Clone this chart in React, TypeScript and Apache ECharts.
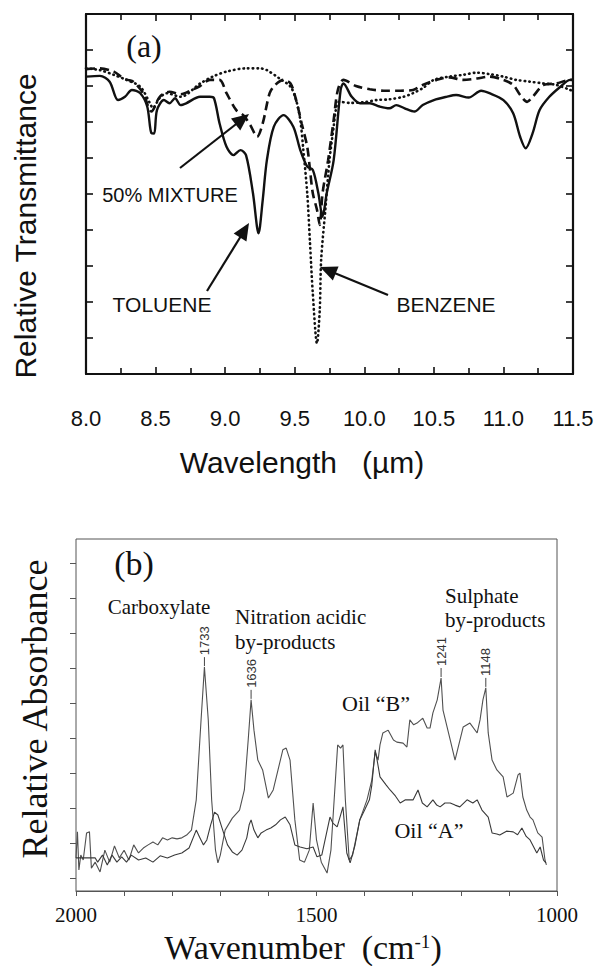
import React, { useEffect, useRef } from "react";
import * as echarts from "echarts";

// ---------- (a) IR transmittance ----------
const wlToluene = [8.0, 8.1, 8.17, 8.23, 8.28, 8.33, 8.39, 8.44, 8.47, 8.49, 8.51, 8.56, 8.6, 8.64, 8.68, 8.72, 8.82, 8.89, 8.92, 8.96, 9.01, 9.06, 9.11, 9.15, 9.2, 9.24, 9.27, 9.3, 9.35, 9.42, 9.49, 9.54, 9.59, 9.63, 9.67, 9.7, 9.73, 9.78, 9.83, 9.85, 9.91, 9.97, 10.04, 10.11, 10.18, 10.23, 10.29, 10.36, 10.42, 10.5, 10.59, 10.66, 10.75, 10.84, 10.9, 11.0, 11.07, 11.12, 11.16, 11.21, 11.26, 11.33, 11.41, 11.48, 11.5];
const tToluene = [8.26, 8.28, 8.12, 7.61, 7.7, 7.89, 7.8, 7.43, 6.69, 6.68, 7.33, 7.61, 7.52, 7.66, 7.47, 7.52, 7.7, 7.7, 7.66, 6.96, 6.31, 6.08, 6.22, 6.08, 5.02, 3.91, 4.83, 5.94, 6.87, 7.19, 6.87, 6.22, 5.76, 5.67, 5.02, 4.37, 5.02, 5.94, 7.89, 8.07, 7.7, 7.52, 7.52, 7.43, 7.38, 7.47, 7.38, 7.29, 7.47, 7.61, 7.7, 7.75, 7.68, 7.87, 7.8, 7.61, 7.24, 6.59, 6.27, 6.69, 7.33, 7.7, 7.98, 8.17, 8.17];

const wlMixture = [8.0, 8.1, 8.2, 8.27, 8.3, 8.34, 8.41, 8.47, 8.53, 8.6, 8.68, 8.76, 8.82, 8.89, 8.96, 9.01, 9.08, 9.13, 9.18, 9.23, 9.27, 9.32, 9.36, 9.42, 9.47, 9.51, 9.55, 9.59, 9.61, 9.63, 9.66, 9.68, 9.7, 9.74, 9.78, 9.81, 9.85, 9.94, 10.04, 10.14, 10.26, 10.35, 10.42, 10.52, 10.61, 10.71, 10.81, 10.9, 11.0, 11.07, 11.12, 11.17, 11.21, 11.29, 11.38, 11.48, 11.5];
const tMixture = [8.47, 8.49, 8.4, 8.21, 8.17, 8.12, 7.8, 7.29, 7.7, 7.84, 7.77, 7.89, 8.0, 8.17, 8.17, 7.8, 7.33, 7.19, 6.92, 6.59, 6.96, 7.8, 8.03, 8.17, 8.07, 7.61, 6.96, 6.31, 5.67, 5.02, 4.56, 4.14, 5.02, 5.94, 7.06, 7.89, 8.17, 8.0, 7.91, 7.87, 7.87, 7.89, 8.03, 8.17, 8.24, 8.17, 8.21, 8.26, 8.17, 8.03, 7.75, 7.56, 7.7, 8.03, 8.07, 8.17, 8.17];

const wlBenzene = [8.0, 8.1, 8.2, 8.29, 8.39, 8.46, 8.48, 8.53, 8.58, 8.68, 8.82, 8.91, 9.01, 9.15, 9.25, 9.3, 9.39, 9.47, 9.51, 9.54, 9.56, 9.59, 9.61, 9.63, 9.66, 9.68, 9.69, 9.72, 9.75, 9.78, 9.8, 9.82, 9.9, 10.0, 10.09, 10.18, 10.28, 10.35, 10.42, 10.5, 10.61, 10.71, 10.81, 10.9, 11.0, 11.09, 11.19, 11.29, 11.38, 11.48, 11.5];
const tBenzene = [8.49, 8.44, 8.31, 8.17, 7.98, 7.52, 7.39, 7.67, 7.8, 7.7, 8.07, 8.26, 8.4, 8.49, 8.49, 8.44, 8.21, 7.98, 7.61, 7.06, 6.31, 5.02, 3.63, 2.24, 0.85, 1.78, 3.17, 4.56, 5.94, 6.87, 7.43, 7.56, 7.53, 7.55, 7.61, 7.63, 7.7, 7.8, 7.94, 8.17, 8.26, 8.31, 8.37, 8.33, 8.26, 8.17, 8.12, 8.07, 8.03, 7.89, 7.86];

// ---------- (b) IR absorbance ----------
const wnOilB = [2000, 1997, 1994, 1990, 1985, 1978, 1972, 1968, 1960, 1950, 1940, 1930, 1920, 1910, 1900, 1890, 1880, 1870, 1860, 1850, 1840, 1830, 1820, 1810, 1800, 1790, 1780, 1770, 1760, 1750, 1740, 1733, 1725, 1718, 1710, 1705, 1700, 1690, 1675, 1660, 1650, 1642, 1636, 1630, 1622, 1612, 1600, 1590, 1580, 1570, 1563, 1555, 1545, 1535, 1525, 1515, 1507, 1500, 1490, 1478, 1470, 1462, 1456, 1450, 1445, 1440, 1432, 1425, 1410, 1395, 1385, 1378, 1372, 1368, 1362, 1351, 1340, 1333, 1320, 1312, 1306, 1298, 1291, 1279, 1270, 1264, 1258, 1249, 1241, 1237, 1222, 1212, 1195, 1181, 1166, 1160, 1154, 1148, 1143, 1135, 1125, 1112, 1104, 1091, 1081, 1077, 1071, 1063, 1056, 1050, 1040, 1031, 1025, 1022];
const absOilB = [0.94, 1.68, 0.6, 1.02, 0.88, 1.65, 1.68, 0.65, 0.82, 0.54, 1.16, 0.82, 1.28, 0.94, 1.16, 0.88, 1.31, 1.08, 1.22, 1.31, 1.39, 1.31, 1.51, 1.45, 1.51, 1.48, 1.51, 1.59, 1.73, 2.59, 4.86, 6.36, 4.86, 2.59, 1.16, 0.8, 1.02, 1.73, 2.07, 2.3, 2.87, 4.29, 5.43, 4.57, 3.72, 3.44, 2.64, 2.87, 3.44, 4.01, 4.06, 3.72, 2.02, 0.88, 0.82, 1.16, 2.5, 1.45, 0.82, 0.51, 1.16, 2.87, 4.15, 4.06, 4.15, 2.59, 0.88, 1.02, 2.02, 2.59, 3.15, 3.95, 3.72, 4.15, 4.49, 4.57, 4.29, 4.23, 4.2, 4.09, 4.86, 4.72, 4.77, 4.91, 4.63, 4.63, 5.06, 5.43, 6.05, 5.14, 4.29, 3.72, 4.66, 4.77, 4.49, 4.86, 5.43, 5.77, 4.49, 3.72, 3.44, 3.24, 2.67, 2.78, 3.3, 3.35, 2.67, 2.3, 2.1, 2.02, 1.65, 1.53, 0.88, 0.74];

const wnOilA = [2000, 1990, 1980, 1970, 1960, 1955, 1945, 1935, 1925, 1915, 1905, 1895, 1885, 1870, 1855, 1840, 1825, 1810, 1795, 1780, 1765, 1750, 1743, 1735, 1728, 1720, 1712, 1705, 1695, 1685, 1675, 1665, 1655, 1645, 1640, 1636, 1630, 1622, 1615, 1605, 1595, 1585, 1575, 1565, 1555, 1545, 1534, 1520, 1507, 1499, 1489, 1472, 1466, 1457, 1445, 1437, 1430, 1420, 1410, 1400, 1390, 1385, 1378, 1374, 1368, 1355, 1347, 1336, 1326, 1315, 1299, 1289, 1280, 1270, 1258, 1250, 1243, 1233, 1222, 1212, 1202, 1187, 1175, 1166, 1156, 1143, 1135, 1125, 1119, 1105, 1091, 1082, 1073, 1064, 1056, 1042, 1035, 1028, 1023];
const absOilA = [0.94, 0.94, 0.94, 0.94, 0.94, 0.82, 1.02, 0.74, 1.02, 0.82, 0.97, 0.82, 1.02, 0.88, 0.94, 0.82, 1.0, 0.94, 1.02, 1.08, 1.22, 1.73, 1.53, 1.31, 1.45, 1.88, 2.24, 2.16, 1.73, 1.31, 1.11, 1.02, 1.16, 1.51, 1.88, 2.02, 1.73, 1.51, 1.65, 1.73, 1.79, 1.88, 2.02, 2.1, 1.88, 1.31, 1.25, 1.2, 1.25, 0.97, 1.02, 2.1, 1.93, 1.82, 2.39, 1.08, 0.8, 1.3, 2.02, 2.3, 2.59, 3.01, 4.01, 3.72, 3.24, 3.01, 2.87, 2.7, 2.5, 2.59, 2.59, 2.87, 2.5, 2.39, 2.59, 2.44, 2.39, 2.5, 2.5, 2.44, 2.39, 2.59, 2.5, 2.59, 2.3, 2.1, 1.65, 1.62, 1.59, 1.7, 1.68, 1.6, 1.79, 1.55, 1.45, 1.08, 1.25, 0.88, 0.8];

const peakLabels = [1733, 1636, 1241, 1148];
const wnTickLabels = [2000, 1500, 1000];

const pairs = (xs: number[], ys: number[]) => xs.map((x, i) => [x, ys[i]]);

function arrow(tail: number[], tip: number[], color: string) {
  const dx = tip[0] - tail[0];
  const dy = tip[1] - tail[1];
  const len = Math.sqrt(dx * dx + dy * dy);
  const ux = dx / len;
  const uy = dy / len;
  const hl = 17;
  const hw = 7.5;
  const bx = tip[0] - ux * hl;
  const by = tip[1] - uy * hl;
  return [
    {
      type: "line",
      shape: { x1: tail[0], y1: tail[1], x2: bx + ux * 2, y2: by + uy * 2 },
      style: { stroke: color, lineWidth: 2.2 },
    },
    {
      type: "polygon",
      shape: {
        points: [
          [tip[0], tip[1]],
          [bx - uy * hw, by + ux * hw],
          [bx + uy * hw, by - ux * hw],
        ],
      },
      style: { fill: color },
    },
  ];
}

export default function App() {
  const ref = useRef<HTMLDivElement>(null);
  useEffect(() => {
    const chart = echarts.init(ref.current!, null, { renderer: "svg" });
    const sans = "Liberation Sans";
    const serif = "Liberation Serif";
    const black = "#111";
    const gray = "#555";

    const topLine = { show: true, onZero: false, lineStyle: { color: black, width: 2.2 } };
    const topTick = { show: true, inside: true, length: 7, lineStyle: { color: black, width: 1.6 } };
    const topMinor = { show: true, splitNumber: 2, length: 6, lineStyle: { color: black, width: 1.6 } };

    chart.setOption({
      animation: false,
      backgroundColor: "#fff",
      grid: [
        { left: 86, top: 14, width: 487, height: 360 },
        { left: 76, top: 539, width: 481, height: 352, show: true, borderColor: gray, borderWidth: 1, backgroundColor: "transparent" },
        { left: 76, top: 563, width: 1, height: 315 },
      ],
      xAxis: [
        {
          gridIndex: 0, type: "value", min: 8, max: 11.5, interval: 0.5, position: "bottom",
          axisLine: topLine, axisTick: topTick, minorTick: topMinor,
          splitLine: { show: false }, minorSplitLine: { show: false },
          axisLabel: { fontFamily: sans, fontSize: 22, color: black, margin: 33, formatter: (v: number) => v.toFixed(1) },
        },
        {
          gridIndex: 0, type: "value", min: 8, max: 11.5, interval: 0.5, position: "top",
          axisLine: topLine, axisTick: topTick, minorTick: topMinor,
          splitLine: { show: false }, axisLabel: { show: false },
        },
        {
          gridIndex: 1, type: "value", min: 1000, max: 2000, interval: 100, inverse: true,
          axisLine: { show: true, onZero: false, lineStyle: { color: gray, width: 1 } },
          axisTick: { show: true, inside: false, length: 5, lineStyle: { color: gray, width: 1 } },
          splitLine: { show: false },
          axisLabel: {
            fontFamily: serif, fontSize: 21, color: black, margin: 13,
            showMinLabel: true, showMaxLabel: true,
            formatter: (v: number) => (wnTickLabels.includes(v) ? String(v) : ""),
          },
        },
        { gridIndex: 2, type: "value", min: 0, max: 1, show: false },
      ],
      yAxis: [
        {
          gridIndex: 0, type: "value", min: 0, max: 10, interval: 1, position: "left",
          axisLine: topLine, axisTick: topTick, axisLabel: { show: false }, splitLine: { show: false },
        },
        {
          gridIndex: 0, type: "value", min: 0, max: 10, interval: 1, position: "right",
          axisLine: topLine, axisTick: topTick, axisLabel: { show: false }, splitLine: { show: false },
        },
        {
          gridIndex: 1, type: "value", min: 0, max: 10,
          axisLine: { show: false }, axisTick: { show: false }, axisLabel: { show: false }, splitLine: { show: false },
        },
        {
          gridIndex: 2, type: "value", min: 0, max: 9, interval: 1,
          axisLine: { show: false },
          axisTick: { show: true, inside: false, length: 6, lineStyle: { color: gray, width: 1 } },
          axisLabel: { show: false }, splitLine: { show: false },
        },
      ],
      series: [
        {
          name: "BENZENE", type: "line", xAxisIndex: 0, yAxisIndex: 0, data: pairs(wlBenzene, tBenzene),
          showSymbol: false, smooth: 0.3, lineStyle: { color: black, width: 2.6, type: [0.5, 4.2], cap: "round" },
        },
        {
          name: "50% MIXTURE", type: "line", xAxisIndex: 0, yAxisIndex: 0, data: pairs(wlMixture, tMixture),
          showSymbol: false, smooth: 0.3, lineStyle: { color: black, width: 2.6, type: [9, 5] },
        },
        {
          name: "TOLUENE", type: "line", xAxisIndex: 0, yAxisIndex: 0, data: pairs(wlToluene, tToluene),
          showSymbol: false, smooth: 0.3, lineStyle: { color: black, width: 2.4 },
        },
        {
          name: "Oil B", type: "line", xAxisIndex: 2, yAxisIndex: 2, data: pairs(wnOilB, absOilB),
          showSymbol: false, lineStyle: { color: "#505050", width: 1.1 },
        },
        {
          name: "Oil A", type: "line", xAxisIndex: 2, yAxisIndex: 2, data: pairs(wnOilA, absOilA),
          showSymbol: false, lineStyle: { color: "#3a3a3a", width: 1.1 },
        },
      ],
    });

    const peakGraphics: any[] = [];
    peakLabels.forEach((p) => {
      const idx = wnOilB.indexOf(p);
      const pt = chart.convertToPixel({ seriesIndex: 3 }, [p, absOilB[idx]]) as number[];
      peakGraphics.push({
        type: "line",
        shape: { x1: pt[0], y1: pt[1] - 1, x2: pt[0], y2: pt[1] - 10 },
        style: { stroke: "#444", lineWidth: 1 },
      });
      peakGraphics.push({
        type: "text", x: pt[0], y: pt[1] - 12, rotation: Math.PI / 2,
        style: { text: String(p), fontFamily: sans, fontSize: 13, fill: "#333", textAlign: "left", textVerticalAlign: "middle" },
      });
    });

    const txt = (text: string, x: number, y: number, size: number, family: string, extra: any = {}) => ({
      type: "text", x, y, ...extra,
      style: { text, fontFamily: family, fontSize: size, fill: black, textAlign: "center", textVerticalAlign: "middle", ...(extra.style || {}) },
    });

    chart.setOption({
      graphic: [
        // (a)
        txt("(a)", 144, 46, 32, serif),
        txt("Relative Transmittance", 25, 226, 30, sans, { rotation: Math.PI / 2 }),
        txt("Wavelength   (µm)", 302, 462, 30, sans),
        txt("50% MIXTURE", 170, 195, 20, sans),
        txt("TOLUENE", 162, 304, 21, sans),
        txt("BENZENE", 446, 304, 21, sans),
        ...arrow([180, 168], [249, 114], black),
        ...arrow([207, 291], [249, 223], black),
        ...arrow([388, 295], [320, 267], black),
        // (b)
        txt("(b)", 134, 563, 34, serif),
        txt("Relative Absorbance", 35, 709, 36, serif, { rotation: Math.PI / 2 }),
        {
          type: "text", x: 303, y: 947,
          style: {
            text: "{a|Wavenumber  (cm}{s|-1}{a|)}",
            textAlign: "center", textVerticalAlign: "middle", fill: black,
            rich: {
              a: { fontFamily: serif, fontSize: 34, lineHeight: 30, fill: black },
              s: { fontFamily: serif, fontSize: 19, verticalAlign: "top", lineHeight: 30, fill: black },
            },
          },
        },
        txt("Carboxylate", 159, 607, 21, serif),
        { type: "text", x: 235, y: 617, style: { text: "Nitration acidic", fontFamily: serif, fontSize: 21, fill: black, textAlign: "left", textVerticalAlign: "middle" } },
        { type: "text", x: 235, y: 642, style: { text: "by-products", fontFamily: serif, fontSize: 21, fill: black, textAlign: "left", textVerticalAlign: "middle" } },
        { type: "text", x: 445, y: 596, style: { text: "Sulphate", fontFamily: serif, fontSize: 21, fill: black, textAlign: "left", textVerticalAlign: "middle" } },
        { type: "text", x: 445, y: 620, style: { text: "by-products", fontFamily: serif, fontSize: 21, fill: black, textAlign: "left", textVerticalAlign: "middle" } },
        txt("Oil \u201cB\u201d", 376, 703, 22, serif),
        txt("Oil \u201cA\u201d", 429, 830, 22, serif),
        ...peakGraphics,
      ],
    });

    return () => chart.dispose();
  }, []);
  return <div ref={ref} style={{ position: "fixed", left: 0, top: 0, width: 597, height: 966, background: "#fff" }} />;
}
